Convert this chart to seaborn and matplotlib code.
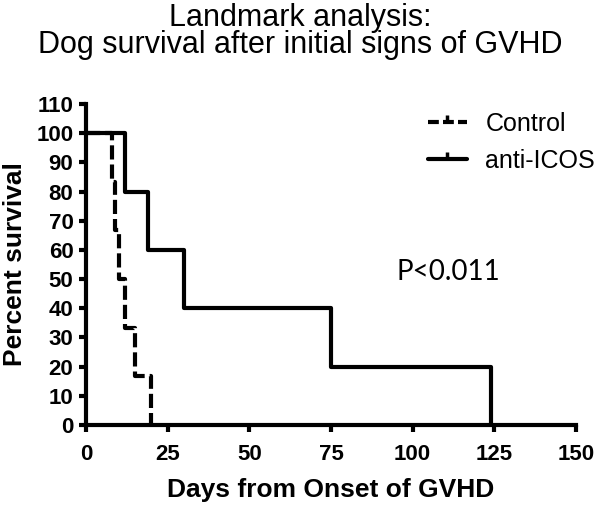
import matplotlib
matplotlib.use("Agg")
import matplotlib.pyplot as plt
from matplotlib.lines import Line2D
import seaborn as sns
import pandas as pd

# Kaplan-Meier steps
control_days = [0, 8, 9, 10, 12, 15, 20]
control_surv = [100, 83.3, 66.7, 50, 33.3, 16.7, 0]
icos_days = [0, 12, 19, 30, 75, 124]
icos_surv = [100, 80, 60, 40, 20, 0]

x_ticks = [0, 25, 50, 75, 100, 125, 150]
y_ticks = list(range(0, 111, 10))

sns.set_style("ticks")
plt.rcParams['font.family'] = ['Liberation Sans', 'DejaVu Sans']
for k in ['text.color', 'axes.labelcolor', 'xtick.color', 'ytick.color', 'axes.edgecolor']:
    plt.rcParams[k] = 'black'

df = pd.concat([
    pd.DataFrame({'days': control_days, 'surv': control_surv, 'group': 'Control'}),
    pd.DataFrame({'days': icos_days, 'surv': icos_surv, 'group': 'anti-ICOS'}),
])

dash = (0, (3.4, 1.2))

fig = plt.figure(figsize=(6, 5.05), dpi=100)
ax = fig.add_axes([0.1433, 0.1584, 0.8167, 0.6356])

sns.lineplot(data=df[df.group == 'Control'], x='days', y='surv', ax=ax,
             color='black', lw=3, drawstyle='steps-post', linestyle=dash)
sns.lineplot(data=df[df.group == 'anti-ICOS'], x='days', y='surv', ax=ax,
             color='black', lw=3, drawstyle='steps-post')

ax.set_xlim(0, 150)
ax.set_ylim(0, 110)
ax.set_xticks(x_ticks)
ax.set_yticks(y_ticks)
ax.tick_params(labelsize=16, width=3, length=5, direction='out')
ax.tick_params(axis='x', pad=9)
ax.tick_params(axis='y', pad=4)
for lab in ax.get_xticklabels() + ax.get_yticklabels():
    lab.set_fontweight('bold')
for s in ['left', 'bottom']:
    ax.spines[s].set_linewidth(3)
sns.despine(ax=ax)

ax.set_xlabel("Days from Onset of GVHD", fontsize=19, fontweight='bold', labelpad=9)
ax.set_ylabel("Percent survival", fontsize=19, fontweight='bold', labelpad=7)
fig.suptitle("Landmark analysis:\nDog survival after initial signs of GVHD",
             fontsize=22, y=0.994, va='top', linespacing=0.86)

ax.text(95.2, 52.6, "P<0.011", fontsize=20, va='center', ha='left', family=['Lato', 'DejaVu Sans'])

handles = [
    Line2D([], [], color='black', lw=3, linestyle=(0, (2.6, 1.0)), marker=2, ms=5, mew=2.5),
    Line2D([], [], color='black', lw=3, marker=2, ms=5, mew=2.5),
]
fig.legend(handles, ['Control', 'anti-ICOS'], loc='upper left',
           bbox_to_anchor=(428 / 600, 1 - 112 / 505), bbox_transform=fig.transFigure,
           frameon=False, fontsize=18, borderpad=0, borderaxespad=0,
           handlelength=1.55, handletextpad=0.75, labelspacing=0.5)

fig.savefig("out.png", dpi=100)
